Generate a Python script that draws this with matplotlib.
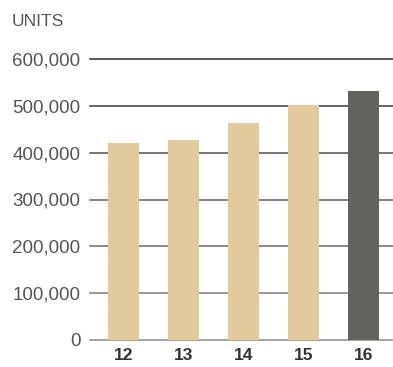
import matplotlib.pyplot as plt

# units sold by year
years = ['12', '13', '14', '15', '16']
units = [421000, 428000, 464000, 502000, 532000]
bar_colors = ['#e1cb9b', '#e1cb9b', '#e1cb9b', '#e1cb9b', '#62625f']
yticks = [0, 100000, 200000, 300000, 400000, 500000, 600000]
ytick_labels = ['0', '100,000', '200,000', '300,000', '400,000', '500,000', '600,000']
grid_colors = ['#8a8a8a', '#7a7a7a', '#6a6a6a', '#606060', '#505050', '#3a3a3a', '#2e2e2e']

plt.rcParams['font.family'] = ['Liberation Sans', 'DejaVu Sans']

fig = plt.figure(figsize=(3.93, 3.67), dpi=100)
ax = fig.add_axes([90 / 393, 1 - 340 / 367, 1 - 90 / 393, (340 - 59) / 367])

for val, col in zip(yticks, grid_colors):
    ax.axhline(val, color=col, lw=1.1, zorder=1, clip_on=False)

x = range(len(years))
ax.bar(x, units, width=0.517, color=bar_colors, zorder=2)

ax.set_xlim(-0.558, 4.49)
ax.set_ylim(0, 600000)
ax.set_yticks(yticks)
ax.set_yticklabels(ytick_labels, fontsize=13.5, color='#555555')
ax.set_xticks(list(x))
ax.set_xticklabels(years, fontsize=12.5, fontweight='bold', color='#333333')
ax.tick_params(axis='y', length=0, pad=7)
ax.tick_params(axis='x', length=0, pad=6)
for s in ax.spines.values():
    s.set_visible(False)

fig.text(12 / 393, 1 - 21 / 367, 'UNITS', fontsize=12.5, color='#555555', va='center', ha='left')

fig.savefig('out.png', dpi=100)
